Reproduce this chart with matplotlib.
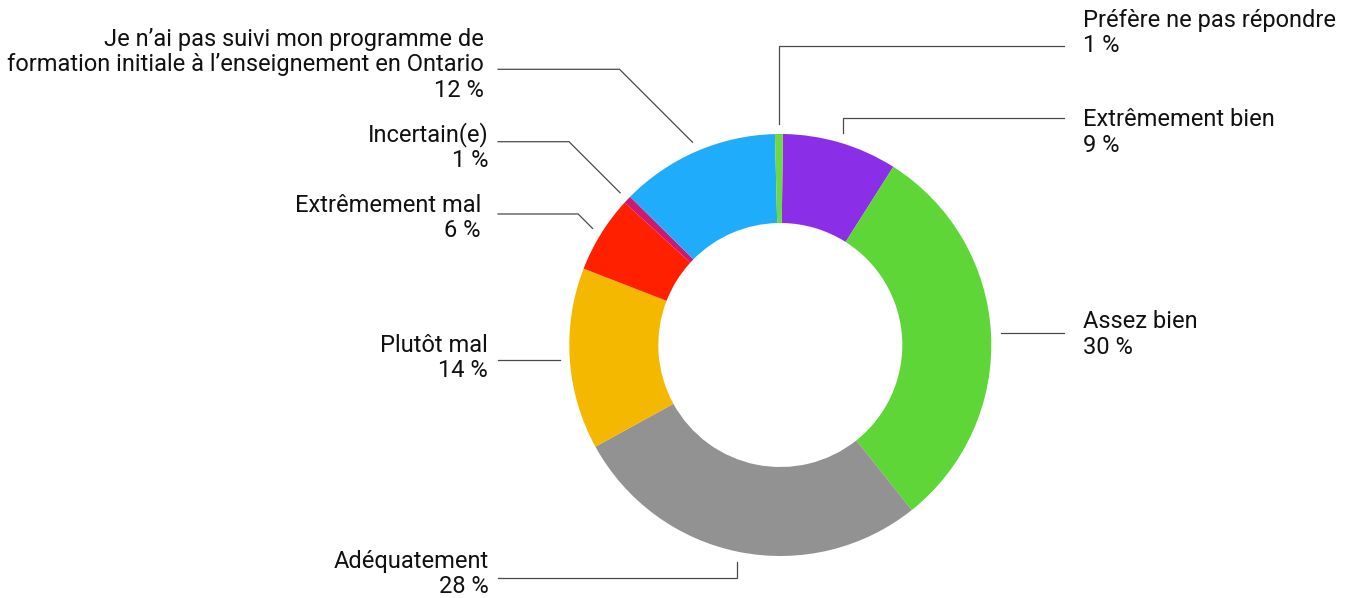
import numpy as np
import matplotlib
matplotlib.use("Agg")
import matplotlib.pyplot as plt

plt.rcParams['font.family'] = ['Roboto', 'DejaVu Sans']

# slices, clockwise from 12 o'clock
labels = ["Extrêmement bien", "Assez bien", "Adéquatement", "Plutôt mal",
          "Extrêmement mal", "Incertain(e)",
          "Je n’ai pas suivi mon programme de\nformation initiale à l’enseignement en Ontario",
          "Préfère ne pas répondre"]
values = [8.8, 30.3, 27.7, 13.9, 5.9, 0.6, 12.2, 0.6]
colors = ["#8a2ee8", "#5ed637", "#929292", "#f5b800",
          "#ff2000", "#cc1a70", "#1fadfb", "#6dd843"]

# label layout (pixels, y from top)
side = ["R", "R", "L", "L", "L", "L", "L", "R"]
text_x = [1083, 1083, 489, 488, 481, 489, 484, 1083]
text_y = [126, 328, 567.7, 351.7, 211.7, 141.7, 46, 26.7]   # first baseline
line_y = [118.3, None, 578.3, None, 214, 141.7, 69.3, 45.7]
kind = ["v", "h", "v", "h", "d", "d", "d", "v"]

W, H = 1353, 598
cx, cy = 780.3, 345
r_out, r_in = 211, 122
offset = 0.7      # degrees, clockwise from top
pitch = 25.5

fig = plt.figure(figsize=(W / 100, H / 100), dpi=100)
ax = fig.add_axes([0, 0, 1, 1])

# inverted y: counterclock in data = clockwise on screen
ax.pie(values, colors=colors, radius=r_out, center=(cx, cy),
       startangle=-90 + offset, counterclock=True,
       wedgeprops=dict(width=r_out - r_in, linewidth=0))
ax.set_xlim(0, W)
ax.set_ylim(H, 0)
ax.set_aspect('equal')
ax.axis('off')

vals = np.array(values)
mids = (np.cumsum(vals) - vals / 2) / vals.sum() * 360 + offset
r_a = 221

for i, lab in enumerate(labels):
    a = np.radians(mids[i])
    x0 = cx + r_a * np.sin(a)
    y0 = cy - r_a * np.cos(a)
    x_end = 1064 if side[i] == "R" else 498
    if kind[i] == "h":
        xs, ys = [x0, x_end], [y0, y0]
    elif kind[i] == "v":
        xs, ys = [x0, x0, x_end], [y0, line_y[i], line_y[i]]
    else:
        dx = abs(y0 - line_y[i])
        xe = x0 - dx if side[i] == "L" else x0 + dx
        xs, ys = [x0, xe, x_end], [y0, line_y[i], line_y[i]]
    ax.plot(xs, ys, color="#4a4a4a", lw=0.9, solid_joinstyle='miter')

    lines = lab.split("\n") + [f"{round(values[i])} %"]
    ha = "left" if side[i] == "R" else "right"
    for j, t in enumerate(lines):
        ax.text(text_x[i], text_y[i] + j * pitch, t, ha=ha, va="baseline",
                fontsize=17, color="#111111")

fig.savefig("out.png", dpi=100)
